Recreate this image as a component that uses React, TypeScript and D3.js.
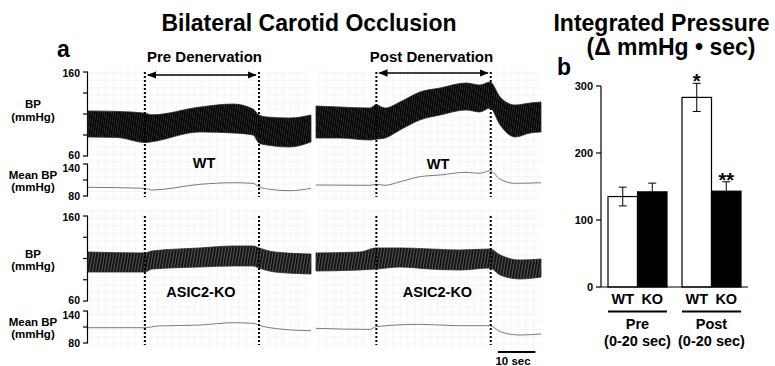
import React from "react";
import * as d3 from "d3";

// ---- panel a: BP recordings (time in s inside each 60 s window) ----
const preOcclusion = [15.3, 46];
const postOcclusion = [16.1, 46.6];

const wtPreT = [0, 8, 15.3, 17.2, 30.1, 39, 44.4, 46, 48.2, 54.3, 60];
const wtPreSys = [113.6, 113, 111, 109, 118.3, 121.9, 116, 108.8, 106.4, 105.2, 108.8];
const wtPreDia = [82.6, 82, 76, 77, 88.6, 87.4, 85, 75.5, 73, 70.7, 76.7];

const wtPostT = [0, 6.4, 14.4, 16, 18.4, 22.4, 27.7, 33.1, 40, 43.7, 46.4, 49.1, 53.1, 57.1, 60];
const wtPostSys = [119.5, 118.3, 117.1, 121, 117.1, 124.3, 136.2, 141, 146.9, 144.5, 148.1, 130.2, 120.7, 123.1, 124.3];
const wtPostDia = [81.4, 81.4, 79, 80, 81.4, 91, 102.9, 108.8, 114.8, 112.4, 117.1, 96.9, 82.6, 87.4, 88.6];

const koPreT = [0, 15.3, 17.2, 30.1, 39, 44.4, 46, 50.3, 60];
const koPreSys = [117.6, 116.5, 118.8, 122.4, 124.7, 124.7, 122.4, 117.6, 115.3];
const koPreDia = [94.1, 94.1, 97.6, 100, 101.2, 101.2, 98.8, 94.1, 91.8];

const koPostT = [0, 11.7, 16, 22.4, 30.4, 38.4, 46.4, 49.1, 54.4, 60];
const koPostSys = [116.5, 117.6, 122.4, 122.4, 121.2, 120, 121.2, 114.1, 108.2, 109.4];
const koPostDia = [95.3, 96.5, 97.6, 100, 97.6, 96.5, 98.8, 90.6, 85.9, 88.2];

const wtPreMeanT = [0, 15.3, 17.2, 30.1, 39, 44.4, 46, 49, 54.3, 60];
const wtPreMean = [96.3, 94.4, 91.2, 101.9, 104.9, 103.8, 97.4, 92.5, 89.9, 94.4];
const wtPostMeanT = [0, 14.4, 16, 18.4, 22.4, 27.7, 33.1, 40, 43.7, 46.4, 49.1, 53.1, 60];
const wtPostMean = [100.6, 100, 102, 100, 106.8, 116.2, 119.4, 124.4, 122.6, 127.4, 111.3, 103.8, 104.9];
const koPreMeanT = [0, 15.3, 19, 30.1, 39, 44.4, 46.7, 51.7, 60];
const koPreMean = [108.7, 108.7, 111.9, 113.7, 118, 116.9, 111.9, 106.2, 103];
const koPostMeanT = [0, 14.4, 16, 27.7, 38.4, 46.4, 49.1, 54.4, 60];
const koPostMean = [107.5, 105.5, 110.6, 115, 112.4, 112.4, 101.2, 95, 96.9];

const bpTicks = [160, 135, 110, 85, 60];
const meanTicks = [140, 110, 80];

// ---- panel b: integrated pressure ----
const phases = ["Pre", "Post"];
const genotypes = ["WT", "KO"];
const barMeans = [135, 142, 283, 143];
const barErr = [14, 13, 21, 14];
const barSig = ["", "", "*", "**"];
const barTicks = [0, 100, 200, 300];

const FONT = "'Liberation Sans', Arial, Helvetica, sans-serif";

const segX = [
  d3.scaleLinear().domain([0, 60]).range([88, 311]),
  d3.scaleLinear().domain([0, 60]).range([316, 541]),
];

// label baselines (they are not quite aligned between rows)
const rows = [
  {
    bp: d3.scaleLinear().domain([60, 160]).range([156, 72]),
    mean: d3.scaleLinear().domain([80, 140]).range([196, 164]),
    top: 72, bottom: 197, gridTop: 70, gridBottom: 200,
    bpLab: [108, 121], meanLab: [179, 191],
  },
  {
    bp: d3.scaleLinear().domain([60, 160]).range([301, 216]),
    mean: d3.scaleLinear().domain([80, 140]).range([343, 311]),
    top: 216, bottom: 345, gridTop: 208, gridBottom: 350,
    bpLab: [258, 270], meanLab: [326, 338],
  },
];

const traces = [
  { row: 0, seg: 0, t: wtPreT, sys: wtPreSys, dia: wtPreDia, mt: wtPreMeanT, m: wtPreMean, fill: "url(#wtBeat)" },
  { row: 0, seg: 1, t: wtPostT, sys: wtPostSys, dia: wtPostDia, mt: wtPostMeanT, m: wtPostMean, fill: "url(#wtBeat)" },
  { row: 1, seg: 0, t: koPreT, sys: koPreSys, dia: koPreDia, mt: koPreMeanT, m: koPreMean, fill: "url(#koBeat)" },
  { row: 1, seg: 1, t: koPostT, sys: koPostSys, dia: koPostDia, mt: koPostMeanT, m: koPostMean, fill: "url(#koBeat)" },
];

const Trace = ({ tr }: any) => {
  const x = segX[tr.seg];
  const r = rows[tr.row];
  const band = d3
    .area<number>()
    .x((_, i) => x(tr.t[i]))
    .y0((_, i) => r.bp(tr.dia[i]))
    .y1((d) => r.bp(d))
    .curve(d3.curveMonotoneX);
  const meanLine = d3
    .line<number>()
    .x((_, i) => x(tr.mt[i]))
    .y((d) => r.mean(d))
    .curve(d3.curveMonotoneX);
  return (
    <g>
      <path d={band(tr.sys) || ""} fill={tr.fill} stroke="#2a2a2a" strokeWidth={0.8} />
      <path d={meanLine(tr.m) || ""} fill="none" stroke="#7a7a7a" strokeWidth={1} />
    </g>
  );
};

const App = () => {
  const yb = d3.scaleLinear().domain([0, 300]).range([287, 86]);
  const xb = d3.scaleBand().domain(phases).range([608, 741]).paddingInner(0.2027);
  const xg = d3.scaleBand().domain(genotypes).range([0, xb.bandwidth()]);
  const bars = phases.flatMap((p, pi) =>
    genotypes.map((g, gi) => ({ p, g, i: pi * 2 + gi }))
  );

  return (
    <svg
      width={775}
      height={366}
      style={{ position: "absolute", left: 0, top: 0, background: "#fff" }}
      fontFamily={FONT}
      fontWeight="bold"
    >
      <defs>
        <pattern id="wtBeat" width={2.2} height={10} patternUnits="userSpaceOnUse" patternTransform="skewX(-8)">
          <rect width={2.2} height={10} fill="#2e2e2e" />
          <line x1={0.6} y1={0} x2={0.6} y2={10} stroke="#000" strokeWidth={1.4} />
        </pattern>
        <pattern id="koBeat" width={3} height={10} patternUnits="userSpaceOnUse" patternTransform="skewX(-10)">
          <rect width={3} height={10} fill="#555" />
          <line x1={0.9} y1={0} x2={0.9} y2={10} stroke="#0d0d0d" strokeWidth={1.8} />
        </pattern>
        <marker id="arr" viewBox="0 0 10 10" refX={9} refY={5} markerWidth={7} markerHeight={7} orient="auto-start-reverse">
          <path d="M0,1 L10,5 L0,9 z" fill="#000" />
        </marker>
      </defs>

      {/* chart paper */}
      {rows.map((r, ri) =>
        segX.map((x, si) => (
          <g key={`grid${ri}${si}`} stroke="#f5f5f5" strokeWidth={1}>
            {d3.range(x.range()[0] + 3, x.range()[1], 7.4).map((gx, k) => (
              <line key={`v${k}`} x1={gx} x2={gx} y1={r.gridTop} y2={r.gridBottom} />
            ))}
            {d3.range(r.gridTop + 3, r.gridBottom, 7.4).map((gy, k) => (
              <line key={`h${k}`} x1={x.range()[0]} x2={x.range()[1]} y1={gy} y2={gy} />
            ))}
          </g>
        ))
      )}

      {/* titles */}
      <text x={309} y={31} fontSize={23} textAnchor="middle">Bilateral Carotid Occlusion</text>
      <text x={57} y={57} fontSize={23}>a</text>
      <text x={204.5} y={62} fontSize={15} textAnchor="middle">Pre Denervation</text>
      <text x={431.5} y={62} fontSize={15} textAnchor="middle">Post Denervation</text>

      {/* axes for panel a */}
      {rows.map((r, ri) => (
        <g key={`ax${ri}`}>
          <line x1={87.5} x2={87.5} y1={r.bp(160)} y2={r.bp(60)} stroke="#000" strokeWidth={1.2} />
          {bpTicks.map((v) => (
            <line key={v} x1={83} x2={88} y1={r.bp(v)} y2={r.bp(v)} stroke="#000" strokeWidth={1.2} />
          ))}
          <text x={80} y={r.bp(160) + 5} fontSize={10.5} textAnchor="end">160</text>
          <text x={80} y={r.bp(60) + 3} fontSize={10.5} textAnchor="end">60</text>
          <line x1={87.5} x2={87.5} y1={r.mean(140)} y2={r.mean(80)} stroke="#000" strokeWidth={1.2} />
          {meanTicks.map((v) => (
            <line key={v} x1={83} x2={88} y1={r.mean(v)} y2={r.mean(v)} stroke="#000" strokeWidth={1.2} />
          ))}
          <text x={80} y={r.mean(140) + 8} fontSize={10.5} textAnchor="end">140</text>
          <text x={80} y={r.mean(80) + 4} fontSize={10.5} textAnchor="end">80</text>
          <text x={33} y={r.bpLab[0]} fontSize={11.5} textAnchor="middle">BP</text>
          <text x={33} y={r.bpLab[1]} fontSize={11.5} textAnchor="middle">(mmHg)</text>
          <text x={33} y={r.meanLab[0]} fontSize={11.5} textAnchor="middle">Mean BP</text>
          <text x={33} y={r.meanLab[1]} fontSize={11.5} textAnchor="middle">(mmHg)</text>
        </g>
      ))}

      {traces.map((tr, i) => (
        <Trace key={i} tr={tr} />
      ))}

      {/* occlusion markers */}
      {[preOcclusion, postOcclusion].map((occ, si) => (
        <g key={`occ${si}`}>
          {rows.map((r, ri) =>
            occ.map((t, k) => (
              <line
                key={`${ri}${k}`}
                x1={segX[si](t)}
                x2={segX[si](t)}
                y1={r.top}
                y2={r.bottom}
                stroke="#000"
                strokeWidth={2}
                strokeDasharray="2,2"
              />
            ))
          )}
          <line
            x1={segX[si](occ[0]) + 3}
            x2={segX[si](occ[1]) - 3}
            y1={si === 0 ? 75 : 73}
            y2={si === 0 ? 75 : 73}
            stroke="#000"
            strokeWidth={1.3}
            markerStart="url(#arr)"
            markerEnd="url(#arr)"
          />
        </g>
      ))}

      <text x={204} y={168} fontSize={14.5} textAnchor="middle">WT</text>
      <text x={438} y={169} fontSize={14.5} textAnchor="middle">WT</text>
      <text x={201} y={297} fontSize={14.5} textAnchor="middle">ASIC2-KO</text>
      <text x={437.5} y={297} fontSize={14.5} textAnchor="middle">ASIC2-KO</text>

      {/* 10 s scale bar */}
      <line x1={segX[1](48.5)} x2={segX[1](58.5)} y1={352} y2={352} stroke="#000" strokeWidth={2} />
      <text x={513} y={365} fontSize={11.5} textAnchor="middle">10 sec</text>

      {/* ---- panel b ---- */}
      <text x={661.5} y={31} fontSize={23} textAnchor="middle">Integrated Pressure</text>
      <text x={671} y={55} fontSize={23} textAnchor="middle">(Δ mmHg • sec)</text>
      <text x={557} y={75} fontSize={23}>b</text>

      {bars.map((b) => {
        const x0 = (xb(b.p) || 0) + (xg(b.g) || 0);
        const w = xg.bandwidth();
        const cx = x0 + w / 2;
        const v = barMeans[b.i];
        const e = barErr[b.i];
        const dark = b.g === "KO";
        return (
          <g key={b.i}>
            <rect x={x0} y={yb(v)} width={w} height={yb(0) - yb(v)} fill={dark ? "#000" : "#fff"} stroke="#000" strokeWidth={1.2} />
            <line x1={cx} x2={cx} y1={yb(v + e)} y2={dark ? yb(v) : yb(v - e)} stroke="#000" strokeWidth={1} />
            <line x1={cx - 4} x2={cx + 4} y1={yb(v + e)} y2={yb(v + e)} stroke="#000" strokeWidth={1} />
            {!dark && <line x1={cx - 4} x2={cx + 4} y1={yb(v - e)} y2={yb(v - e)} stroke="#000" strokeWidth={1} />}
            {barSig[b.i] && (
              <text x={cx} y={yb(v + e) + 5} fontSize={20} textAnchor="middle">{barSig[b.i]}</text>
            )}
          </g>
        );
      })}

      <line x1={601} x2={601} y1={yb(300)} y2={yb(0)} stroke="#000" strokeWidth={1.2} />
      <line x1={601} x2={748} y1={yb(0)} y2={yb(0)} stroke="#000" strokeWidth={1.2} />
      {barTicks.map((t) => (
        <g key={t}>
          <line x1={596} x2={601} y1={yb(t)} y2={yb(t)} stroke="#000" strokeWidth={1.2} />
          <text x={593} y={yb(t) + 4} fontSize={11} textAnchor="end">{t}</text>
        </g>
      ))}

      {bars.map((b) => (
        <text key={`l${b.i}`} x={(xb(b.p) || 0) + (xg(b.g) || 0) + xg.bandwidth() / 2} y={304} fontSize={14.5} textAnchor="middle">
          {b.g}
        </text>
      ))}
      {phases.map((p) => {
        const x0 = xb(p) || 0;
        const cx = x0 + xb.bandwidth() / 2;
        return (
          <g key={p}>
            <line x1={x0} x2={x0 + xb.bandwidth()} y1={311.5} y2={311.5} stroke="#000" strokeWidth={2} />
            <text x={cx} y={329} fontSize={14.5} textAnchor="middle">{p}</text>
            <text x={cx} y={346} fontSize={14.5} textAnchor="middle">(0-20 sec)</text>
          </g>
        );
      })}
    </svg>
  );
};

export default App;
